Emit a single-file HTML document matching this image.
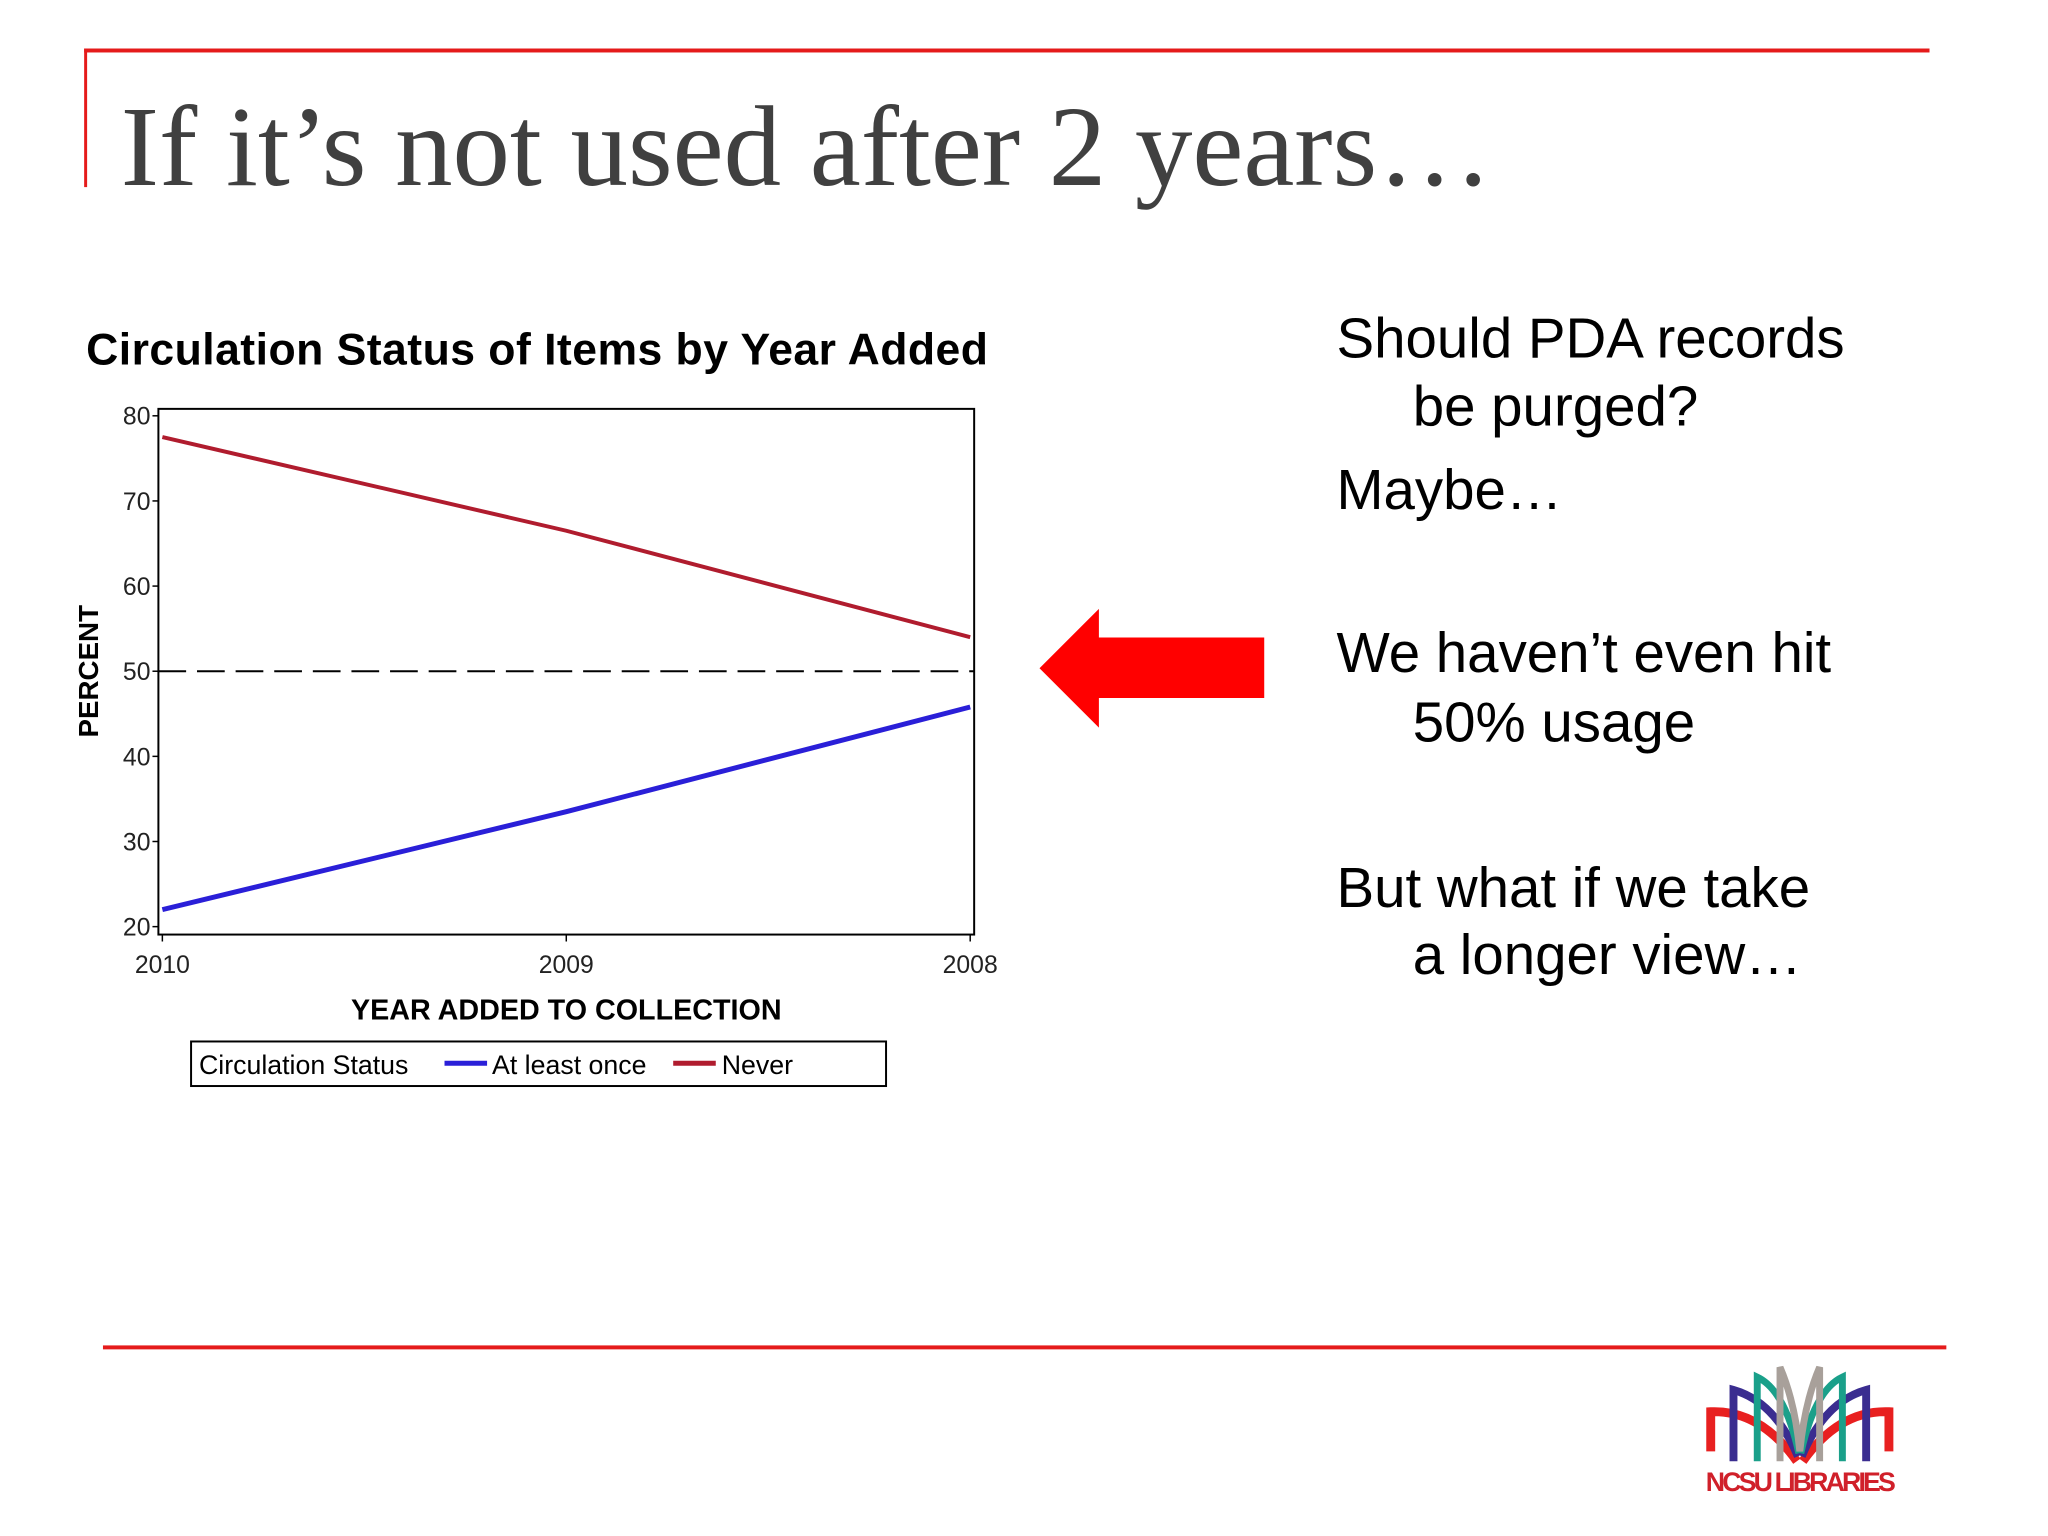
<!DOCTYPE html>
<html><head><meta charset="utf-8"><style>
body{margin:0;width:2048px;height:1536px;background:#fff;overflow:hidden;position:relative;font-family:"Liberation Sans",Arial,sans-serif}
#wrap{position:absolute;left:0;top:0;width:2048px;height:1536px;transform:scale(0.99);transform-origin:0 0}
.abs{position:absolute}
.rt{position:absolute;font-size:57px;color:#000;white-space:nowrap;line-height:1}
</style></head><body>
<div id="wrap">
<div class="abs" style="left:85px;top:49px;width:1864px;height:4px;background:#e51b1b"></div>
<div class="abs" style="left:85px;top:49px;width:3px;height:140px;background:#e51b1b"></div>
<div class="abs" style="left:122px;top:86px;font-family:'Liberation Serif',serif;font-size:116px;color:#404040;white-space:nowrap;line-height:1.1">If it’s not used after 2 years…</div>

<svg class="abs" style="left:0;top:0" width="1300" height="1150">
<text x="87" y="368" font-size="45" font-weight="bold" font-family="Liberation Sans, sans-serif" textLength="911">Circulation Status of Items by Year Added</text>
<g id="plot"></g>
</svg>

<svg class="abs" style="left:1045px;top:610px" width="240" height="130">
<polygon points="5,65 65,5 65,34 232,34 232,95 65,95 65,125" fill="#ff0000"/>
</svg>

<div class="rt" style="left:1350px;top:314px">Should PDA records</div>
<div class="rt" style="left:1427px;top:383px">be purged?</div>
<div class="rt" style="left:1350px;top:467px">Maybe…</div>
<div class="rt" style="left:1350px;top:632px">We haven’t even hit</div>
<div class="rt" style="left:1427px;top:702px">50% usage</div>
<div class="rt" style="left:1350px;top:869px">But what if we take</div>
<div class="rt" style="left:1427px;top:937px">a longer view…</div>

<div class="abs" style="left:104px;top:1359px;width:1862px;height:4px;background:#e51b1b"></div>

<svg class="abs" style="left:1718px;top:1376px" width="205" height="150">
<path d="M10,90 L10,50 Q60,48 97,100" stroke="#e82020" stroke-width="9" fill="none"/>
<path d="M190,90 L190,50 Q140,48 103,100" stroke="#e82020" stroke-width="9" fill="none"/>
<path d="M33,100 L33,28 Q75,40 98,95" stroke="#3a2d90" stroke-width="8" fill="none"/>
<path d="M167,100 L167,28 Q125,40 102,95" stroke="#3a2d90" stroke-width="8" fill="none"/>
<path d="M57,100 L57,15 Q85,28 99,92" stroke="#1aa08a" stroke-width="7" fill="none"/>
<path d="M143,100 L143,15 Q115,28 101,92" stroke="#1aa08a" stroke-width="7" fill="none"/>
<path d="M80,100 L80,5 Q95,40 100,90 Q105,40 120,5 L120,100" stroke="#a8a09a" stroke-width="7" fill="none"/>
<text x="5" y="130" font-size="27" font-weight="bold" fill="#d0202a" font-family="Liberation Sans Narrow, Liberation Sans, sans-serif" textLength="192">NCSU LIBRARIES</text>
</svg>
</div>

<script>
const categories=["2010","2009","2008"];
const atLeastOnce=[22,33.5,45.8];
const never=[77.5,66.5,54];
const yTicks=[20,30,40,50,60,70,80];
const refLine=50;
const NS="http://www.w3.org/2000/svg";
const g=document.getElementById('plot');
const L=160,R=984,T=413,B=944;
const xs=i=>164+i*(980-164)/(categories.length-1);
const ys=v=>936-(v-20)*(936-420)/60;
function mk(t,a,p){const e=document.createElementNS(NS,t);for(const k in a)e.setAttribute(k,a[k]);(p||g).appendChild(e);return e;}
const frame=mk('rect',{x:L,y:T,width:R-L,height:B-T,fill:'none',stroke:'#000','stroke-width':2});


yTicks.forEach(v=>{
 const tk=mk('line',{x1:L-6,x2:L,y1:ys(v),y2:ys(v),stroke:'#000','stroke-width':1.5});
 
 
 const t=mk('text',{x:L-8,y:ys(v)+9,'text-anchor':'end','font-size':25,fill:'#222'});
 
 
 t.textContent=v;
});
categories.forEach((c,i)=>{
 const tk=mk('line',{x1:xs(i),x2:xs(i),y1:B,y2:B+7,stroke:'#000','stroke-width':1.5});
 
 
 const t=mk('text',{x:xs(i),y:983,'text-anchor':'middle','font-size':25,fill:'#222'});
 
 
 t.textContent=c;
});
const ref=mk('line',{x1:L,x2:R,y1:ys(refLine),y2:ys(refLine),stroke:'#000','stroke-width':2,'stroke-dasharray':'28,11'});


function series(arr,col,name){
 const p=mk('polyline',{points:arr.map((v,i)=>xs(i)+','+ys(v)).join(' '),fill:'none',stroke:col,'stroke-width':name==='series-never'?4:5});
 
 
}
series(never,'#b01c2e','series-never');
series(atLeastOnce,'#2a1fd8','series-at-least-once');
const yt=mk('text',{x:0,y:0,transform:'translate(99,678) rotate(-90)','text-anchor':'middle','font-size':28,'font-weight':'bold'});


yt.textContent='PERCENT';
const xt=mk('text',{x:572,y:1030,'text-anchor':'middle','font-size':29,'font-weight':'bold'});


xt.textContent='YEAR ADDED TO COLLECTION';
const lg=mk('rect',{x:193,y:1052,width:702,height:45,fill:'none',stroke:'#000','stroke-width':2});


const l1=mk('text',{x:201,y:1085,'font-size':27});


l1.textContent='Circulation Status';
const s1=mk('line',{x1:449,x2:492,y1:1074,y2:1074,stroke:'#2a1fd8','stroke-width':5});


const t1=mk('text',{x:497,y:1085,'font-size':27});


t1.textContent='At least once';
const s2=mk('line',{x1:680,x2:723,y1:1074,y2:1074,stroke:'#b01c2e','stroke-width':5});


const t2=mk('text',{x:729,y:1085,'font-size':27});


t2.textContent='Never';
</script>
</body></html>
